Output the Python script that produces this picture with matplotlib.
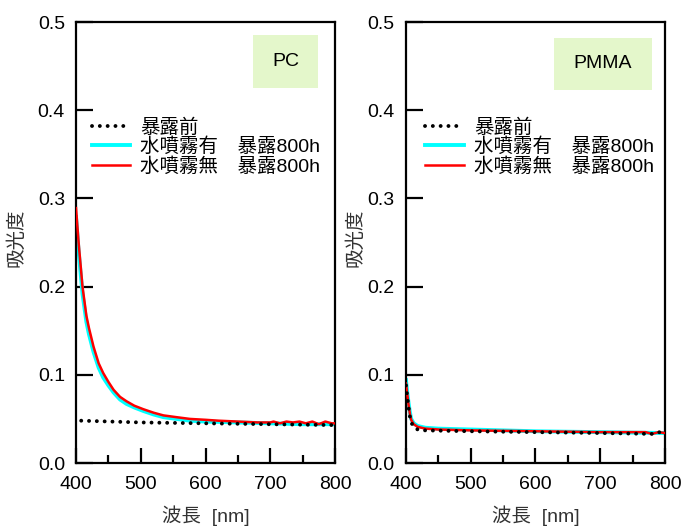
import numpy as np
import matplotlib
matplotlib.use("Agg")
import matplotlib.pyplot as plt
from matplotlib.patches import Rectangle

plt.rcParams['font.family'] = ['Liberation Sans', 'Noto Sans CJK JP', 'DejaVu Sans']

# PC
pc_red_x = [400, 404, 410, 416, 420, 427, 435, 442, 450, 458, 468, 478, 490, 504, 520, 535, 555, 576,
            600, 620, 650, 680, 700, 705, 715, 725, 735, 745, 755, 765, 775, 785, 795, 800]
pc_red_y = [0.289, 0.250, 0.200, 0.167, 0.153, 0.132, 0.113, 0.102, 0.092, 0.083, 0.075, 0.070, 0.065,
            0.061, 0.057, 0.054, 0.052, 0.050, 0.049, 0.048, 0.047, 0.046, 0.046, 0.047, 0.045,
            0.047, 0.046, 0.047, 0.045, 0.047, 0.044, 0.047, 0.045, 0.045]
pc_cyan_x = [400, 404, 410, 416, 420, 427, 435, 442, 450, 458, 468, 478, 490, 504, 520, 535, 555, 576,
             600, 650, 700, 750, 800]
pc_cyan_y = [0.279, 0.240, 0.192, 0.160, 0.146, 0.126, 0.108, 0.097, 0.088, 0.080, 0.072, 0.067, 0.063,
             0.059, 0.055, 0.052, 0.050, 0.048, 0.047, 0.046, 0.045, 0.044, 0.044]
pc_black_x = [408, 500, 600, 700, 800]
pc_black_y = [0.048, 0.046, 0.045, 0.044, 0.043]

# PMMA
pm_red_x = [400, 402, 404, 406, 408, 412, 418, 430, 450, 500, 600, 700, 770, 780, 790, 800]
pm_red_y = [0.090, 0.078, 0.066, 0.056, 0.049, 0.044, 0.041, 0.039, 0.038, 0.037, 0.036, 0.035,
            0.035, 0.033, 0.035, 0.034]
pm_cyan_x = [400, 402, 404, 406, 408, 412, 418, 430, 450, 500, 600, 700, 800]
pm_cyan_y = [0.094, 0.080, 0.068, 0.058, 0.050, 0.045, 0.042, 0.040, 0.039, 0.038, 0.036, 0.035, 0.034]
pm_black_x = [400, 402, 404, 406, 408, 412, 418, 430, 500, 600, 700, 780, 790, 800]
pm_black_y = [0.088, 0.075, 0.063, 0.053, 0.046, 0.041, 0.038, 0.037, 0.036, 0.035, 0.034, 0.033,
              0.035, 0.034]

labels = ["暴露前", "水噴霧有\u3000暴露800h", "水噴霧無\u3000暴露800h"]
xticks = [400, 500, 600, 700, 800]
yticks = [0.0, 0.1, 0.2, 0.3, 0.4, 0.5]

fig = plt.figure(figsize=(6.83, 5.27), dpi=100)
ax1 = fig.add_axes([0.1113, 0.1214, 0.3792, 0.8368])
ax2 = fig.add_axes([0.5944, 0.1214, 0.3792, 0.8368])


def panel(ax, bx, by, cx, cy, rx, ry, name, box, leg_x, ylab_x):
    ax.plot(bx, by, color="black", lw=2.8, dashes=(0.01, 2.0), dash_capstyle="round", label=labels[0], zorder=4)
    ax.plot(cx, cy, color="#00ffff", lw=2.8, label=labels[1], zorder=2)
    ax.plot(rx, ry, color="#ff0000", lw=1.8, label=labels[2], zorder=3)
    ax.set_xlim(400, 800)
    ax.set_ylim(0, 0.5)
    ax.set_xticks(xticks)
    ax.set_xticks(np.arange(450, 800, 100), minor=True)
    ax.set_yticks(yticks)
    ax.set_yticklabels([f"{v:.1f}" for v in yticks])
    ax.tick_params(axis="x", which="major", direction="in", length=11, width=1.6, labelsize=14, pad=9,
                   top=False)
    ax.tick_params(axis="x", which="minor", direction="in", length=6, width=1.6, top=False)
    ax.tick_params(axis="y", direction="in", length=12, width=1.6, labelsize=14, pad=8, right=False)
    for s in ax.spines.values():
        s.set_linewidth(1.6)
    ax.set_xlabel("波長  [nm]", fontsize=14, color="#333333")
    ax.xaxis.set_label_coords(0.5, -0.096)
    ax.set_ylabel("吸光度", fontsize=14, color="#333333")
    ax.yaxis.set_label_coords(ylab_x, 0.51)
    ax.add_patch(Rectangle((box[0], box[1]), box[2], box[3], transform=ax.transAxes,
                           facecolor="#e4f7cb", edgecolor="none", zorder=1))
    ax.text(box[0] + box[2] / 2, box[1] + box[3] / 2, name, transform=ax.transAxes,
            ha="center", va="center", fontsize=14)
    ax.legend(loc="upper left", bbox_to_anchor=(leg_x, 0.782), frameon=False, fontsize=14,
              handlelength=2.0, handletextpad=0.5, labelspacing=0.06, borderpad=0, borderaxespad=0)


panel(ax1, pc_black_x, pc_black_y, pc_cyan_x, pc_cyan_y, pc_red_x, pc_red_y, "PC",
      (0.683, 0.85, 0.251, 0.12), 0.06, -0.195)
panel(ax2, pm_black_x, pm_black_y, pm_cyan_x, pm_cyan_y, pm_red_x, pm_red_y, "PMMA",
      (0.571, 0.846, 0.379, 0.118), 0.075, -0.16)

fig.savefig("out.png", dpi=100)
